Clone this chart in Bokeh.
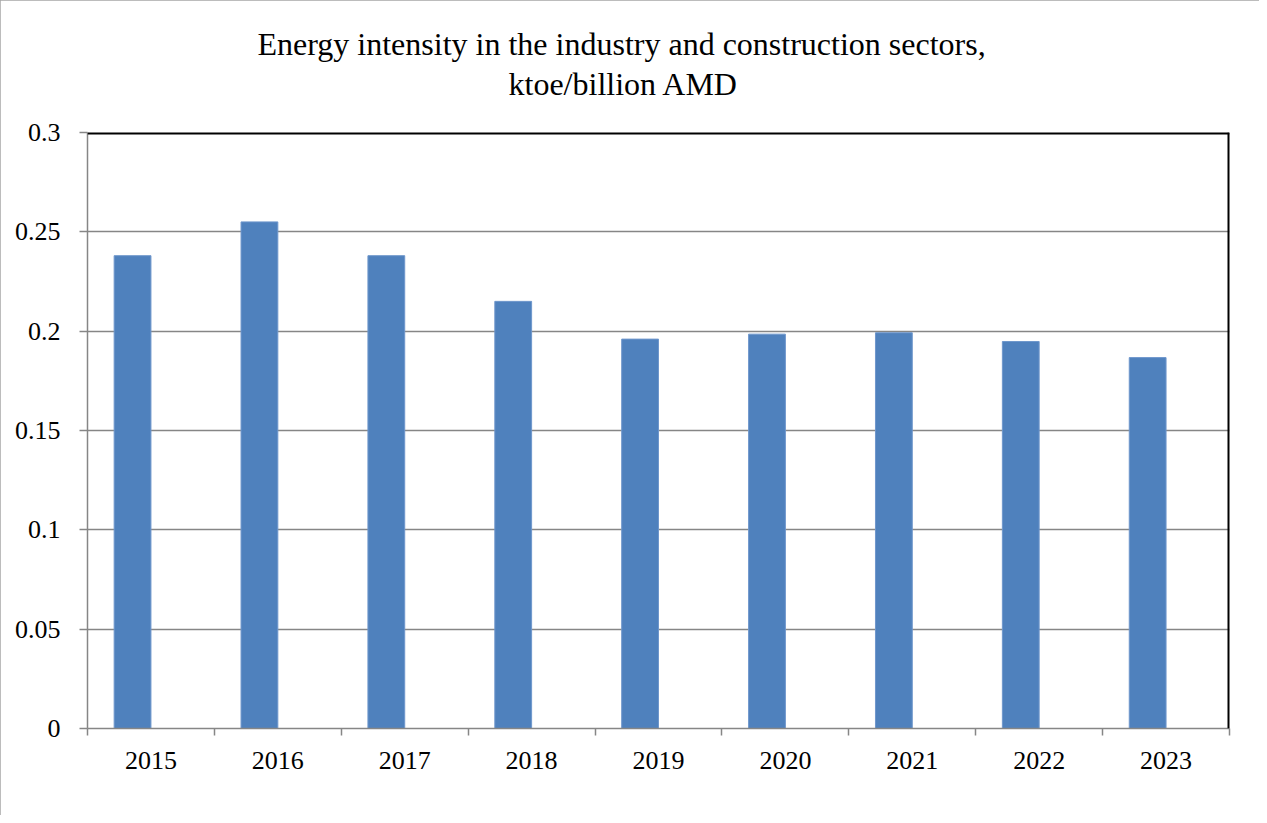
import numpy as np
from bokeh.plotting import figure
from bokeh.models import Range1d, FixedTicker, Span, Title
from bokeh.embed import file_html
from bokeh.resources import INLINE

years = ["2015", "2016", "2017", "2018", "2019", "2020", "2021", "2022", "2023"]
intensity = [0.238, 0.255, 0.238, 0.215, 0.196, 0.1985, 0.1992, 0.1948, 0.1867]
y_ticks = [0, 0.05, 0.1, 0.15, 0.2, 0.25, 0.3]
y_tick_labels = ["0", "0.05", "0.1", "0.15", "0.2", "0.25", "0.3"]
title_lines = ["Energy intensity in the industry and construction sectors,",
               "ktoe/billion AMD"]

n = len(years)
idx = np.arange(n)
centers = idx + 0.5
bar_x = centers - 0.145

FONT = "Liberation Serif"
GRAY = "#868686"

p = figure(width=1259, height=815, output_backend="svg", toolbar_location=None, title=None,
           x_range=Range1d(0, n), y_range=Range1d(0, 0.3),
           min_border_left=87, min_border_right=30, min_border_top=132, min_border_bottom=87)
p.outline_line_color = None
p.background_fill_color = "white"
p.border_fill_color = "white"
p.styles = {"outline": "2px solid #a6a6a6", "outline-offset": "-2px"}

p.vbar(x=bar_x, top=intensity, width=0.29, fill_color="#4F81BD",
       line_color="#6f97cc", line_width=1)

# y axis
p.yaxis.ticker = FixedTicker(ticks=y_ticks, minor_ticks=[])
p.yaxis.major_label_overrides = {t: l for t, l in zip(y_ticks, y_tick_labels)}
p.yaxis.axis_line_color = GRAY
p.yaxis.axis_line_width = 1.5
p.yaxis.major_tick_line_color = GRAY
p.yaxis.major_tick_line_width = 1.5
p.yaxis.major_tick_out = 8
p.yaxis.major_tick_in = 0
p.yaxis.minor_tick_line_color = None
p.yaxis.major_label_standoff = 19
p.yaxis.major_label_text_font = FONT
p.yaxis.major_label_text_font_size = "26px"
p.yaxis.major_label_text_color = "black"

# x axis: labels at centres, ticks at category boundaries
p.xaxis.ticker = FixedTicker(ticks=list(centers), minor_ticks=list(np.arange(n + 1)))
p.xaxis.major_label_overrides = {float(c): y for c, y in zip(centers, years)}
p.xaxis.axis_line_color = GRAY
p.xaxis.axis_line_width = 1.5
p.xaxis.major_tick_line_color = None
p.xaxis.major_tick_out = 0
p.xaxis.major_tick_in = 0
p.xaxis.minor_tick_line_color = GRAY
p.xaxis.minor_tick_line_width = 1.5
p.xaxis.minor_tick_out = 7
p.xaxis.minor_tick_in = 0
p.xaxis.major_label_standoff = 16
p.xaxis.major_label_text_font = FONT
p.xaxis.major_label_text_font_size = "26px"
p.xaxis.major_label_text_color = "black"

p.xgrid.grid_line_color = None
p.ygrid.ticker = FixedTicker(ticks=y_ticks[1:-1])
p.ygrid.grid_line_color = GRAY
p.ygrid.grid_line_width = 1.5

# top and right frame lines (black)
p.add_layout(Span(location=y_ticks[-1], dimension="width", line_color="black", line_width=4))
p.add_layout(Span(location=n, dimension="height", line_color="black", line_width=4))

# title (two lines); subtitle line nearest the frame is added first
p.add_layout(Title(text=title_lines[1], align="left", offset=421, standoff=61,
                   text_font=FONT, text_font_size="32px", text_font_style="normal",
                   text_color="black"), "above")
p.add_layout(Title(text=title_lines[0], align="left", offset=170, standoff=-56,
                   text_font=FONT, text_font_size="32px", text_font_style="normal",
                   text_color="black"), "above")

open("out.html", "w").write(file_html(p, INLINE))
